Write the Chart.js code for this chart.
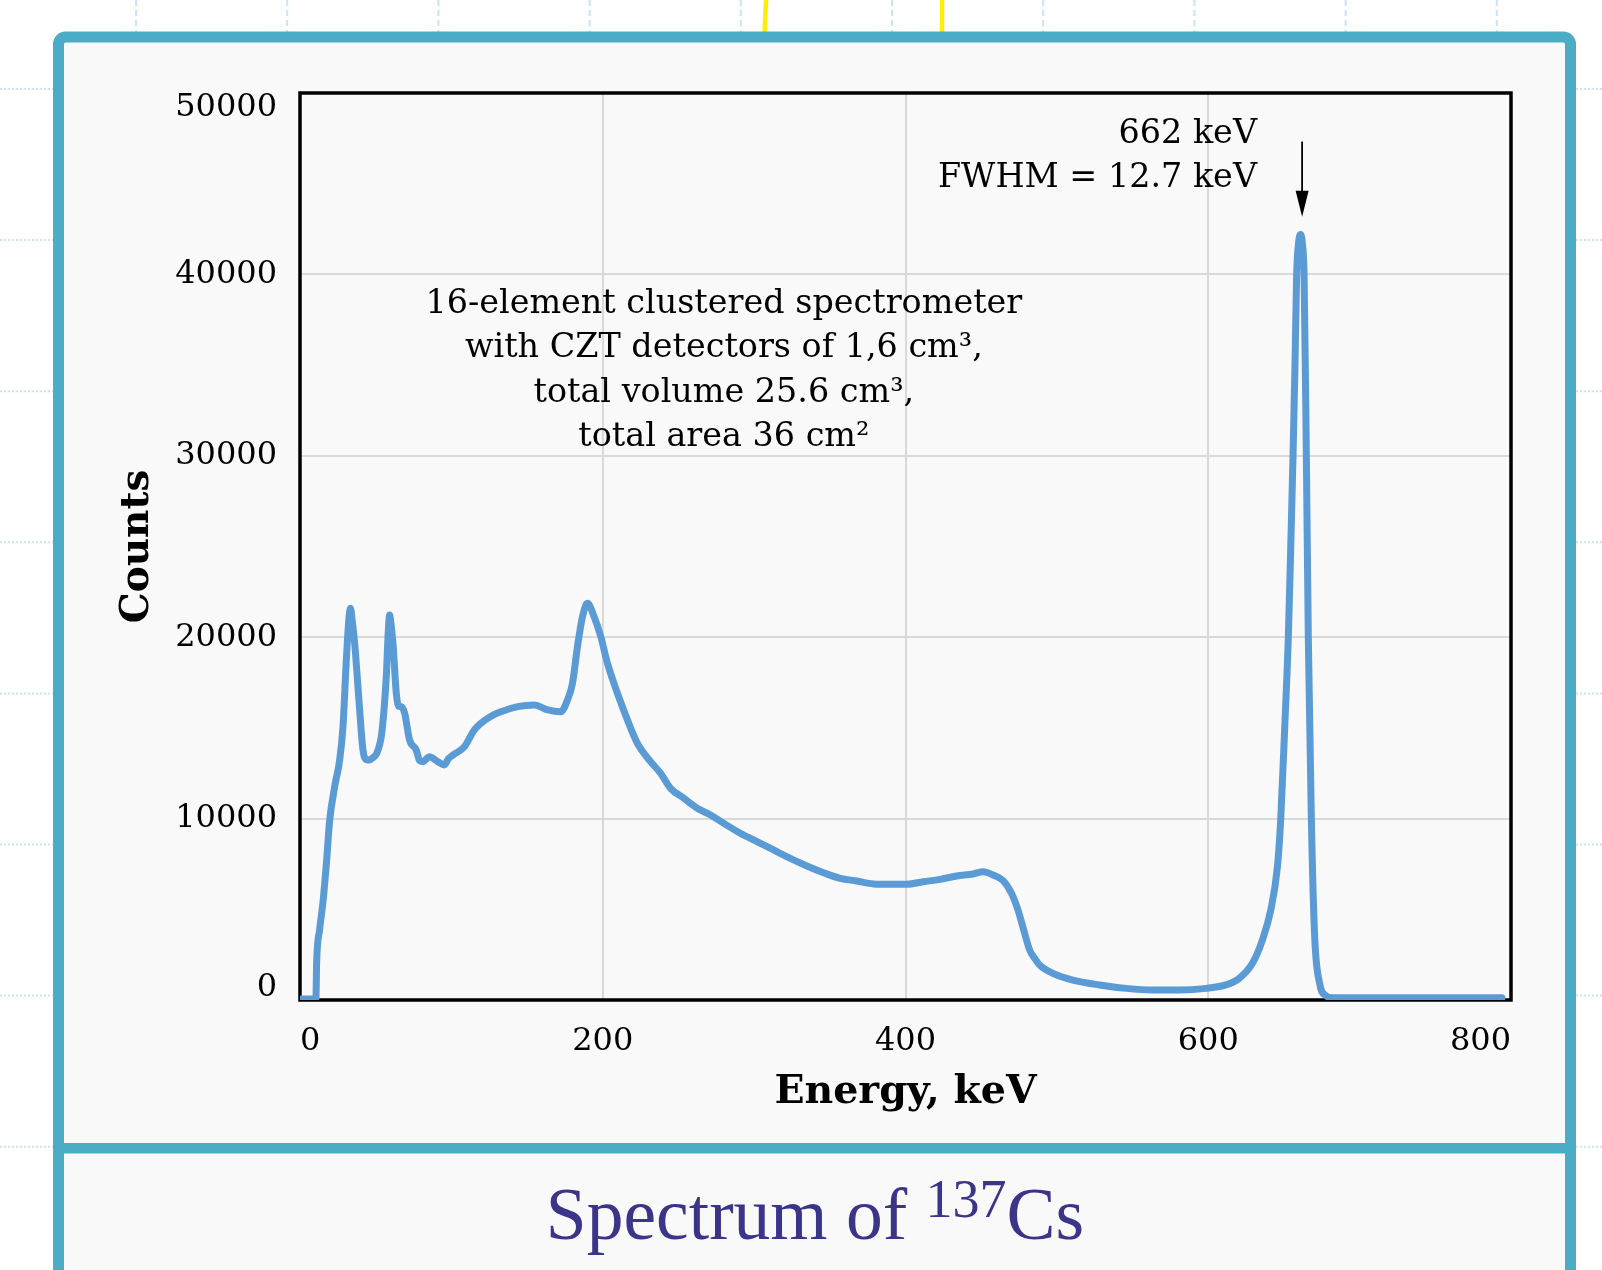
<!DOCTYPE html>
<html>
<head>
<meta charset="utf-8">
<script src="https://cdn.jsdelivr.net/npm/chart.js@4.4.1/dist/chart.umd.min.js"></script>
<style>
  html, body { margin:0; padding:0; }
  body { width:1602px; height:1270px; overflow:hidden; background:#ffffff; position:relative; }
  #bg { position:absolute; left:0; top:0; }
  #c { position:absolute; left:0; top:0; }
  #title { position:absolute; left:65px; width:1500px; top:1178px; text-align:center;
           font-family:"Liberation Serif", serif; font-size:73.5px; line-height:73.5px; color:#3a3589; white-space:nowrap; }
  #title .sup { font-size:54px; vertical-align:22px; line-height:0; }
</style>
</head>
<body>
<svg id="bg" width="1602" height="1270" xmlns="http://www.w3.org/2000/svg">
  <g id="vlines" stroke="#c9e4f6" stroke-width="2" stroke-dasharray="6 4"></g>
  <g id="hlines" stroke="#c9e4f6" stroke-width="2" stroke-dasharray="2 2"></g>
  <line x1="766" y1="0" x2="764.5" y2="34" stroke="#ffee00" stroke-width="4.5"/>
  <line x1="942" y1="0" x2="942" y2="34" stroke="#ffee00" stroke-width="4.5"/>
  <rect x="58.5" y="37" width="1512" height="1300" rx="7" ry="7" fill="#f9f9f9" stroke="#4bacc6" stroke-width="11"/>
  <rect x="53" y="1143" width="1523" height="10.5" fill="#4bacc6"/>
</svg>
<canvas id="c" width="1602" height="1140"></canvas>
<div id="title">Spectrum of <span class="sup">137</span>Cs</div>
<script>
// ---------------- data ----------------
const energy = [0.5, 10.5, 11, 13, 15.3, 17.5, 19.6, 22.9, 26.2, 28.4, 30.6, 32.3, 33.3, 34.5, 36.1, 39.4, 41.6, 44, 46, 48,
  50.4, 53.7, 55.5, 57, 58.3, 59.2, 60.3, 61.4, 63.6, 65, 66.9, 69.1, 72.4, 76.8, 79, 81.2, 85.5, 91, 95.4, 98,
  101, 108.6, 115.2, 124, 132.8, 143.8, 154.7, 163.6, 172.3, 176.7, 180, 183.3, 186.6, 189.9, 194.3, 198.7, 203.1, 209.7, 216.3, 222.9,
  231.6, 238.2, 244.8, 253.6, 262.4, 271.2, 279.9, 290.9, 301.9, 312.9, 323.9, 334.9, 345.8, 356.8, 367.8, 378.8, 389.8, 400.8, 411.7, 422.7,
  433.7, 444.7, 451.3, 457.9, 464.5, 470, 474.3, 478.7, 482, 485.3, 488.6, 497.4, 510.6, 528.2, 545.8, 563.3, 580.9, 598.5, 611.7, 620.4,
  629.2, 635.8, 641.3, 645.7, 647.9, 650.5, 652.9, 654.5, 656, 657.3, 658.4, 659.6, 661, 662.3, 663.3, 664.8, 666.1, 668.1, 670.3, 673.6,
  677.5, 682, 720, 760, 794];
const counts = [60, 60, 2100, 3900, 5500, 7600, 9900, 11760, 13230, 15070, 18740, 21000, 21600, 20900, 19680, 16000, 13780, 13250, 13230, 13350,
  13550, 14520, 16000, 17820, 20300, 21220, 20600, 19680, 16920, 16200, 16170, 15820, 14330, 13780, 13200, 13140, 13410, 13140, 12960, 13300,
  13500, 13960, 14890, 15530, 15890, 16170, 16260, 15990, 15890, 16540, 17460, 19480, 21130, 21870, 21130, 20030, 18560, 16910, 15440, 14150,
  13140, 12500, 11670, 11120, 10570, 10200, 9740, 9190, 8730, 8270, 7810, 7390, 7020, 6710, 6560, 6400, 6380, 6380, 6520, 6650,
  6840, 6950, 7070, 6890, 6580, 5880, 4960, 3680, 2760, 2300, 1930, 1470, 1100, 830, 640, 550, 550, 640, 830, 1190,
  2020, 3310, 4960, 7350, 10000, 15000, 20000, 25000, 30000, 35000, 40000, 41700, 42200, 41600, 40000, 30000, 20000, 10000, 3500, 900,
  250, 130, 120, 120, 120];

const xTickValues = [0, 200, 400, 600, 800];
const yTickValues = [0, 10000, 20000, 30000, 40000, 50000];
const xTitle = "Energy, keV";
const yTitle = "Counts";
const noteLines = ["16-element clustered spectrometer", "with CZT detectors of 1,6 cm³,", "total volume 25.6 cm³,", "total area 36 cm²"];
const noteAnchor = [280, 37870];          // centre energy, baseline counts of first line
const peakLines = ["662 keV", "FWHM = 12.7 keV"];
const peakTextAnchor = [632.2, 47245];    // right edge energy, baseline counts of first line
const peakEnergy = 662;
const arrowCounts = [47320, 43180];

// ---------------- chart ----------------
const FONT = '"DejaVu Serif", serif';

const decor = {
  id: 'decor',
  beforeDatasetsDraw(chart) {
    const { ctx, chartArea: a } = chart;
    ctx.save();
    ctx.strokeStyle = '#000';
    ctx.lineWidth = 3.5;
    ctx.strokeRect(a.left, a.top, a.right - a.left, a.bottom - a.top);
    ctx.restore();
  },
  afterDatasetsDraw(chart) {
    const { ctx } = chart;
    const xs = chart.scales.x, ys = chart.scales.y;
    const lh = 44.4;
    ctx.save();
    ctx.fillStyle = '#000';
    ctx.font = '33.4px ' + FONT;
    ctx.textBaseline = 'alphabetic';
    ctx.textAlign = 'center';
    const nx = xs.getPixelForValue(noteAnchor[0]);
    const ny = ys.getPixelForValue(noteAnchor[1]);
    noteLines.forEach((t, i) => ctx.fillText(t, nx, ny + i * lh));
    ctx.textAlign = 'right';
    const px = xs.getPixelForValue(peakTextAnchor[0]);
    const py = ys.getPixelForValue(peakTextAnchor[1]);
    peakLines.forEach((t, i) => ctx.fillText(t, px, py + i * lh));
    // arrow
    const ax = xs.getPixelForValue(peakEnergy);
    const ay0 = ys.getPixelForValue(arrowCounts[0]);
    const ay1 = ys.getPixelForValue(arrowCounts[1]);
    ctx.strokeStyle = '#000';
    ctx.lineWidth = 1.8;
    ctx.beginPath();
    ctx.moveTo(ax, ay0);
    ctx.lineTo(ax, ay1 - 20);
    ctx.stroke();
    ctx.beginPath();
    ctx.moveTo(ax, ay1);
    ctx.lineTo(ax - 6.5, ay1 - 26);
    ctx.lineTo(ax + 6.5, ay1 - 26);
    ctx.closePath();
    ctx.fill();
    ctx.restore();
  }
};

const points = energy.map((e, i) => ({ x: e, y: counts[i] }));

new Chart(document.getElementById('c'), {
  type: 'line',
  data: {
    datasets: [{
      data: points,
      borderColor: '#5b9bd5',
      borderWidth: 7,
      pointRadius: 0,
      fill: false,
      cubicInterpolationMode: 'monotone',
      borderJoinStyle: 'round',
      borderCapStyle: 'round'
    }]
  },
  options: {
    responsive: false,
    animation: false,
    devicePixelRatio: 1,
    layout: { padding: { top: 93, right: 91, left: 0, bottom: 0 } },
    plugins: { legend: { display: false }, tooltip: { enabled: false }, title: { display: false } },
    scales: {
      x: {
        type: 'linear',
        min: xTickValues[0],
        max: xTickValues[xTickValues.length - 1],
        afterBuildTicks: s => { s.ticks = xTickValues.map(v => ({ value: v })); },
        grid: { color: '#d9d9d9', lineWidth: 2, drawTicks: false },
        border: { display: false },
        ticks: { align: 'inner', padding: 22, color: '#000', maxRotation: 0, autoSkip: false,
                 font: { family: FONT, size: 32 } },
        title: { display: true, text: xTitle, color: '#000',
                 font: { family: FONT, size: 39.5, weight: 'bold' }, padding: { top: 0, bottom: 24 } },
        afterFit: s => { s.height = 140; }
      },
      y: {
        type: 'linear',
        min: yTickValues[0],
        max: yTickValues[yTickValues.length - 1],
        afterBuildTicks: s => { s.ticks = yTickValues.map(v => ({ value: v })); },
        grid: { color: '#d9d9d9', lineWidth: 2, drawTicks: false },
        border: { display: false },
        ticks: {
          padding: 23, color: '#000', autoSkip: false,
          callback: (v) => {
            const s = String(v);
            if (v === yTickValues[yTickValues.length - 1]) return ['', s];
            if (v === yTickValues[0]) return [s, ''];
            return s;
          },
          font: (c) => {
            const v = c.tick ? c.tick.value : null;
            if (v === yTickValues[yTickValues.length - 1]) return { family: FONT, size: 32, lineHeight: '30px' };
            if (v === yTickValues[0]) return { family: FONT, size: 32, lineHeight: '24px' };
            return { family: FONT, size: 32 };
          }
        },
        title: { display: true, text: yTitle, color: '#000',
                 font: { family: FONT, size: 39, weight: 'bold' }, padding: { top: 114, bottom: 0 } },
        afterFit: s => { s.width = 300; }
      }
    }
  },
  plugins: [decor]
});

// background dotted guide lines
(function () {
  const NS = 'http://www.w3.org/2000/svg';
  const v = document.getElementById('vlines');
  for (let k = 0; k < 10; k++) {
    const x = 136 + 151.2 * k;
    const l = document.createElementNS(NS, 'line');
    l.setAttribute('x1', x); l.setAttribute('x2', x);
    l.setAttribute('y1', 0); l.setAttribute('y2', 1270);
    v.appendChild(l);
  }
  const h = document.getElementById('hlines');
  for (let k = 0; k < 8; k++) {
    const y = 89 + 151.1 * k;
    const l = document.createElementNS(NS, 'line');
    l.setAttribute('x1', 0); l.setAttribute('x2', 1602);
    l.setAttribute('y1', y); l.setAttribute('y2', y);
    h.appendChild(l);
  }
})();
</script>
</body>
</html>
